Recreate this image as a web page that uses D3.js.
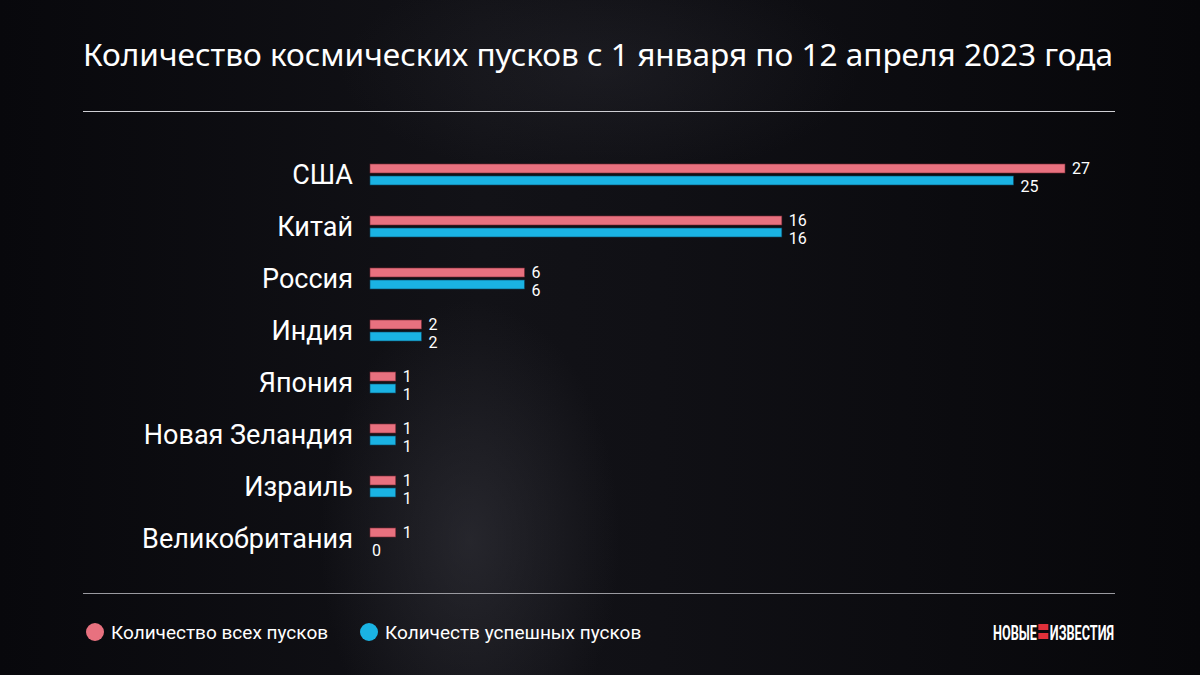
<!DOCTYPE html>
<html><head><meta charset="utf-8">
<script src="https://cdn.jsdelivr.net/npm/d3@7"></script>
<style>html,body{margin:0;padding:0;background:#0b0b10;}svg{display:block;}</style>
</head><body>
<svg id="c" width="1200" height="675"></svg>
<script>
const categories = ["США","Китай","Россия","Индия","Япония","Новая Зеландия","Израиль","Великобритания"];
const totalLaunches = [27,16,6,2,1,1,1,1];
const successfulLaunches = [25,16,6,2,1,1,1,0];
const seriesNames = ["Количество всех пусков","Количеств успешных пусков"];
const seriesColors = ["#e8717f","#1ab3e3"];
const title = "Количество космических пусков с 1 января по 12 апреля 2023 года";

const svg = d3.select("#c");
const W=1200,H=675;
const defs = svg.append("defs");
const bg = defs.append("linearGradient").attr("id","bg").attr("x1","0").attr("y1","0").attr("x2","1").attr("y2","0");
bg.append("stop").attr("offset","0%").attr("stop-color","#08080c");
bg.append("stop").attr("offset","40%").attr("stop-color","#121217");
bg.append("stop").attr("offset","55%").attr("stop-color","#101015");
bg.append("stop").attr("offset","100%").attr("stop-color","#07070a");
svg.append("rect").attr("width",W).attr("height",H).attr("fill","url(#bg)");
const glow = defs.append("radialGradient").attr("id","glow");
glow.append("stop").attr("offset","0%").attr("stop-color","#3a3a42").attr("stop-opacity",0.5);
glow.append("stop").attr("offset","100%").attr("stop-color","#3a3a42").attr("stop-opacity",0);
svg.append("ellipse").attr("cx",470).attr("cy",540).attr("rx",150).attr("ry",240).attr("fill","url(#glow)");
svg.append("ellipse").attr("cx",600).attr("cy",70).attr("rx",260).attr("ry",110).attr("fill","url(#glow)").attr("opacity",0.5);

// title
svg.append("text").attr("x",83).attr("y",66).attr("fill","#fff")
  .attr("font-family","'Noto Sans','Open Sans',sans-serif").attr("font-size",31)
  .attr("textLength",1030).attr("lengthAdjust","spacingAndGlyphs").text(title);
svg.append("line").attr("x1",83).attr("x2",1115).attr("y1",111.5).attr("y2",111.5).attr("stroke","#cfcfd4").attr("stroke-width",1);
svg.append("line").attr("x1",83).attr("x2",1115).attr("y1",593.5).attr("y2",593.5).attr("stroke","#9a9aa0").attr("stroke-width",1);

const x = d3.scaleLinear().domain([0,27]).range([370,1065]);
const y = d3.scaleBand().domain(categories).range([149,565]).padding(0);
const barH = 9;
const data = categories.map((c,i)=>({c, vals:[totalLaunches[i],successfulLaunches[i]]}));

const g = svg.append("g");
const grp = g.selectAll("g.cat").data(data).join("g").attr("class","cat")
  .attr("transform",d=>`translate(0,${y(d.c)+y.bandwidth()/2})`);

grp.append("text").attr("x",353).attr("y",-1).attr("dy","0.36em").attr("text-anchor","end")
  .attr("fill","#fff").attr("font-family","Roboto,sans-serif").attr("font-size",27)
  .text(d=>d.c);

[0,1].forEach(k=>{
  const yoff = k===0 ? -11 : 1;
  grp.filter(d=>d.vals[k]>0).append("rect")
    .attr("x",x(0)).attr("y",yoff).attr("height",barH)
    .attr("width",d=>x(d.vals[k])-x(0)).attr("fill",seriesColors[k])
    .attr("stroke", k===0?"#7a2a35":"#0d4a66").attr("stroke-width",0.6);
  grp.append("text")
    .attr("x",d=>x(d.vals[k])+(d.vals[k]>0?7:2))
    .attr("y", k===0 ? -7 : 11)
    .attr("dy","0.36em").attr("fill","#fff")
    .attr("font-family","Roboto,sans-serif").attr("font-size",16)
    .text(d=>d.vals[k]);
});

// legend
const leg = svg.append("g");
const lx=[95,369];
seriesNames.forEach((n,i)=>{
  leg.append("circle").attr("cx",lx[i]).attr("cy",632).attr("r",9).attr("fill",seriesColors[i]);
  leg.append("text").attr("x",lx[i]+16).attr("y",632).attr("dy","0.36em").attr("fill","#fff")
    .attr("font-family","Roboto,sans-serif").attr("font-size",19).text(n);
});

// logo
const logo = svg.append("g");
const lt = logo.append("text").attr("x",993).attr("y",640).attr("fill","#fff")
  .attr("font-family","'Liberation Sans Narrow','Roboto',sans-serif").attr("font-weight","bold").attr("font-size",20)
  .attr("textLength",121).attr("lengthAdjust","spacingAndGlyphs").text("НОВЫЕ\u2003ИЗВЕСТИЯ");
let cx = 1039;
try {
  const n = lt.node();
  cx = (n.getStartPositionOfChar(5).x + n.getEndPositionOfChar(5).x)/2;
} catch(e) {}
logo.append("rect").attr("x",cx-5).attr("y",624).attr("width",10).attr("height",6).attr("fill","#e0303a");
logo.append("rect").attr("x",cx-5).attr("y",633).attr("width",10).attr("height",6).attr("fill","#e0303a");
</script>
</body></html>
